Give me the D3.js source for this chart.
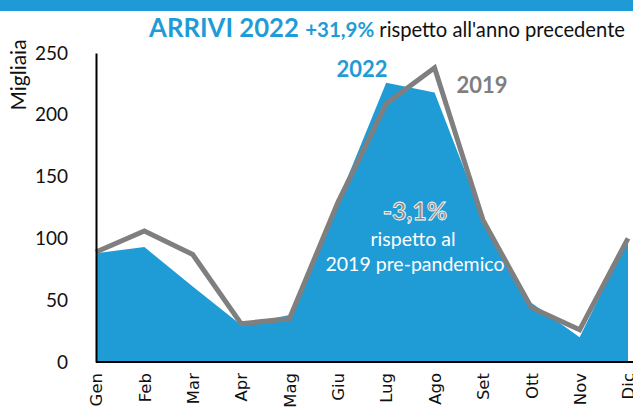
<!DOCTYPE html>
<html>
<head>
<meta charset="utf-8">
<script src="https://cdnjs.cloudflare.com/ajax/libs/d3/7.8.5/d3.min.js"></script>
<style>
body { margin: 0; background: #fff; }
svg { display: block; }
</style>
</head>
<body>
<script>
// months, thousands of arrivals
var months = ["Gen", "Feb", "Mar", "Apr", "Mag", "Giu", "Lug", "Ago", "Set", "Ott", "Nov", "Dic"];
var arrivi2022 = [88, 93, 61, 30, 38, 130, 226, 218, 117, 48, 20, 100];
var arrivi2019 = [89, 106, 87, 31, 35, 129, 209, 238, 115, 44, 26, 100];
var yTicks = [0, 50, 100, 150, 200, 250];

var W = 633, H = 407;
var blue = "#1f9cd6", grey = "#7f7f7f";

var svg = d3.select("body").append("svg")
    .attr("width", W)
    .attr("height", H);

// top band
svg.append("rect").attr("x", 0).attr("y", 0).attr("width", W).attr("height", 11).attr("fill", "#1e9bd7");

var x = d3.scalePoint().domain(months).range([96, 628]);
var y = d3.scaleLinear().domain([0, 250]).range([362, 53]);

var rows = months.map(function(m, i) { return {m: m, a: arrivi2022[i], b: arrivi2019[i]}; });

// 2022 area
var area = d3.area()
    .x(function(d) { return x(d.m); })
    .y0(y(0))
    .y1(function(d) { return y(d.a); });
svg.append("path").datum(rows).attr("d", area).attr("fill", blue);

// 2019 line
var line = d3.line()
    .x(function(d) { return x(d.m); })
    .y(function(d) { return y(d.b); });
svg.append("path").datum(rows).attr("d", line)
    .attr("fill", "none").attr("stroke", grey).attr("stroke-width", 5)
    .attr("stroke-linejoin", "miter");

// axes
var yAxis = svg.append("g").attr("transform", "translate(96,0)")
    .call(d3.axisLeft(y).tickValues(yTicks).tickSize(0).tickPadding(28));
yAxis.select(".domain").attr("stroke", "#000").attr("stroke-width", 2);
yAxis.selectAll("text").attr("font-family", "Lato, sans-serif").attr("font-size", 19).attr("fill", "#111");

var xAxis = svg.append("g").attr("transform", "translate(0,362)")
    .call(d3.axisBottom(x).tickSize(0).tickPadding(0));
xAxis.select(".domain").attr("stroke", "#000").attr("stroke-width", 2)
    .attr("d", "M96,0H" + W);
xAxis.selectAll("text")
    .attr("font-family", "DejaVu Sans, sans-serif").attr("font-size", 16.5).attr("fill", "#111")
    .attr("transform", "rotate(-90)")
    .attr("text-anchor", "end")
    .attr("x", -11).attr("y", 0).attr("dy", "0.35em");

// y axis title
svg.append("text")
    .attr("transform", "translate(26,75) rotate(-90)")
    .attr("text-anchor", "middle")
    .attr("font-family", "Lato, sans-serif").attr("font-size", 21).attr("fill", "#111")
    .text("Migliaia");

// title
var title = svg.append("text").attr("x", 625).attr("y", 37).attr("text-anchor", "end")
    .attr("font-family", "Lato, sans-serif");
title.append("tspan").attr("font-weight", "bold").attr("font-size", 25.7).attr("fill", blue).text("ARRIVI 2022 ");
title.append("tspan").attr("font-weight", "bold").attr("font-size", 20.5).attr("fill", blue).text("+31,9% ");
title.append("tspan").attr("font-size", 20.2).attr("fill", "#111").text("rispetto all'anno precedente");

// series labels
svg.append("text").attr("x", 362).attr("y", 77).attr("text-anchor", "middle")
    .attr("font-family", "Lato, sans-serif").attr("font-weight", "bold").attr("font-size", 22)
    .attr("fill", blue).text("2022");
svg.append("text").attr("x", 482).attr("y", 93).attr("text-anchor", "middle")
    .attr("font-family", "Lato, sans-serif").attr("font-weight", "bold").attr("font-size", 22)
    .attr("fill", grey).text("2019");

// comparison note
svg.append("text").attr("x", 415).attr("y", 220).attr("text-anchor", "middle")
    .attr("font-family", "Lato, sans-serif").attr("font-weight", "bold").attr("font-size", 25)
    .attr("fill", "#8a8a8a").attr("stroke", "#fff").attr("stroke-width", 0.8)
    .text("-3,1%");
svg.append("text").attr("x", 413).attr("y", 246).attr("text-anchor", "middle")
    .attr("font-family", "Lato, sans-serif").attr("font-size", 19.5).attr("fill", "#fff")
    .text("rispetto al");
svg.append("text").attr("x", 415).attr("y", 271).attr("text-anchor", "middle")
    .attr("font-family", "Lato, sans-serif").attr("font-size", 19.5).attr("fill", "#fff")
    .text("2019 pre-pandemico");
</script>
</body>
</html>
